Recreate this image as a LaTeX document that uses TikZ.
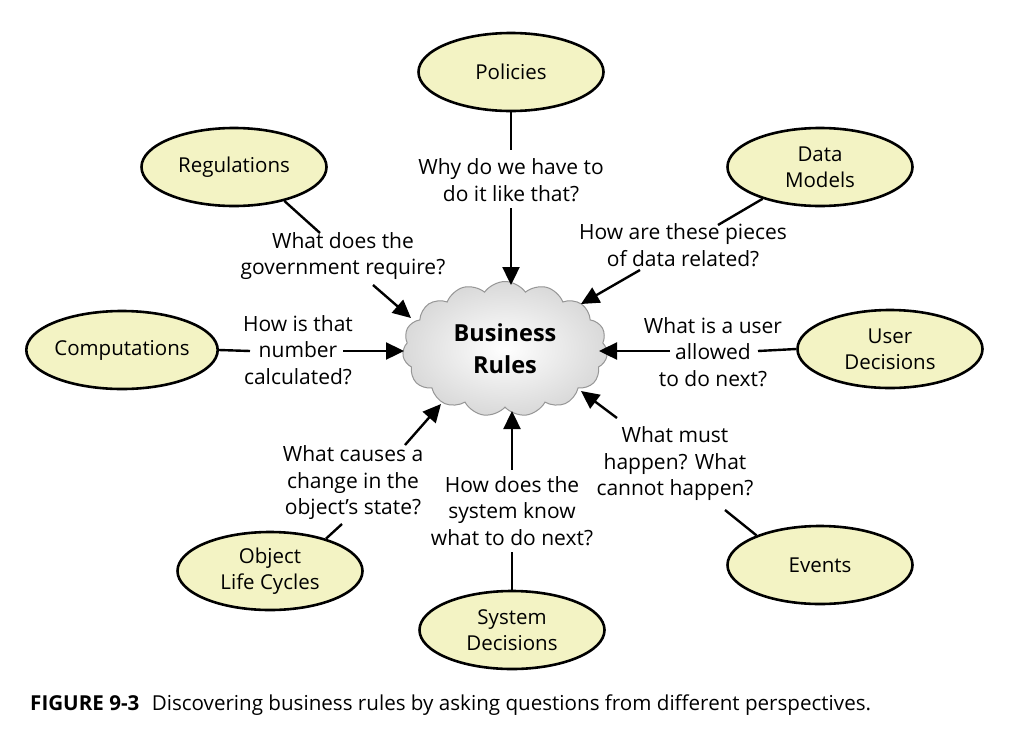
\documentclass[tikz,border=0pt]{standalone}
\usepackage{fontspec}
\setmainfont{Open Sans}
\usetikzlibrary{shapes.geometric,shapes.symbols,arrows.meta}
\definecolor{topicfill}{RGB}{243,243,196}
\definecolor{cloudedge}{RGB}{150,150,150}

\begin{document}
\begin{tikzpicture}[x=1pt,y=-1pt,
  topic/.style={ellipse,draw=black,line width=2.6pt,fill=topicfill,minimum width=185pt,minimum height=78pt,inner sep=0pt,align=center,font=\fontsize{20.5}{26}\selectfont},
  question/.style={align=center,inner sep=2pt,font=\fontsize{21}{26.5}\selectfont},
  link/.style={line width=2.4pt},
  ask/.style={line width=2.4pt,-{Triangle[length=18pt,width=17pt]}}]

    \fill[white] (0,0) rectangle (1029,753);
    \useasboundingbox (0,0) rectangle (1029,753);

    % the cloud in the middle
    \node[cloud,cloud puffs=15,cloud puff arc=110,aspect=1.6,draw=cloudedge,line width=1pt,
          inner color=white,outer color=gray!30,minimum width=205pt,minimum height=135pt,
          align=center,font=\bfseries\fontsize{23.5}{32}\selectfont] (rules) at (505,349) {Business\\Rules};

    % perspectives
    \node[topic] (pol) at (511,72) {Policies};
    \node[topic] (reg) at (234,167) {Regulations};
    \node[topic] (dat) at (820,167) {Data\\Models};
    \node[topic] (comp) at (122,350) {Computations};
    \node[topic] (usr) at (890,349) {User\\Decisions};
    \node[topic] (obj) at (270,571) {Object\\Life Cycles};
    \node[topic] (sys) at (512,630) {System\\Decisions};
    \node[topic] (evt) at (820,565) {Events};

    % questions
    \node[question] (pol-q) at (511,180) {Why do we have to\\do it like that?};
    \node[question] (reg-q) at (343,256) {What does the\\government require?};
    \node[question] (dat-q) at (683,245) {How are these pieces\\of data related?};
    \node[question] (comp-q) at (298,350) {How is that\\number\\calculated?};
    \node[question] (usr-q) at (713,352) {What is a user\\allowed\\to do next?};
    \node[question] (obj-q) at (353,483) {What causes a\\change in the\\object’s state?};
    \node[question] (sys-q) at (512,511) {How does the\\system know\\what to do next?};
    \node[question] (evt-q) at (675,464) {What must\\happen? What\\cannot happen?};

    % line ends
    \coordinate (pol-a) at (511,150);
    \coordinate (pol-b) at (511,208);
    \coordinate (pol-c) at (511,285);
    \coordinate (reg-a) at (320,233);
    \coordinate (reg-b) at (373,285);
    \coordinate (reg-c) at (411,318);
    \coordinate (dat-a) at (718,225);
    \coordinate (dat-b) at (640,270);
    \coordinate (dat-c) at (581,304);
    \coordinate (comp-a) at (250,351);
    \coordinate (comp-b) at (343,351);
    \coordinate (comp-c) at (404,351);
    \coordinate (usr-a) at (758,351);
    \coordinate (usr-b) at (670,351);
    \coordinate (usr-c) at (599,351);
    \coordinate (obj-a) at (342,524);
    \coordinate (obj-b) at (405,445);
    \coordinate (obj-c) at (441,404);
    \coordinate (sys-a) at (512,552);
    \coordinate (sys-b) at (512,470);
    \coordinate (sys-c) at (512,411);
    \coordinate (evt-a) at (725,510);
    \coordinate (evt-b) at (617,418);
    \coordinate (evt-c) at (581,391);

    \draw[link] (pol.south) -- (pol-a);
    \draw[ask] (pol-b) -- (pol-c);
    \draw[link] (reg.-34) -- (reg-a);
    \draw[ask] (reg-b) -- (reg-c);
    \draw[link] (dat.209) -- (dat-a);
    \draw[ask] (dat-b) -- (dat-c);
    \draw[link] (comp.east) -- (comp-a);
    \draw[ask] (comp-b) -- (comp-c);
    \draw[link] (usr.west) -- (usr-a);
    \draw[ask] (usr-b) -- (usr-c);
    \draw[link] (obj.30) -- (obj-a);
    \draw[ask] (obj-b) -- (obj-c);
    \draw[link] (sys.north) -- (sys-a);
    \draw[ask] (sys-b) -- (sys-c);
    \draw[link] (evt.155) -- (evt-a);
    \draw[ask] (evt-b) -- (evt-c);

    \node[anchor=base west,inner sep=0pt,font=\fontsize{20.6}{24}\selectfont] (caption) at (30,710)
      {\textbf{FIGURE 9-3}\hspace{0.6em}Discovering business rules by asking questions from different perspectives.};

  \end{tikzpicture}
\end{document}
